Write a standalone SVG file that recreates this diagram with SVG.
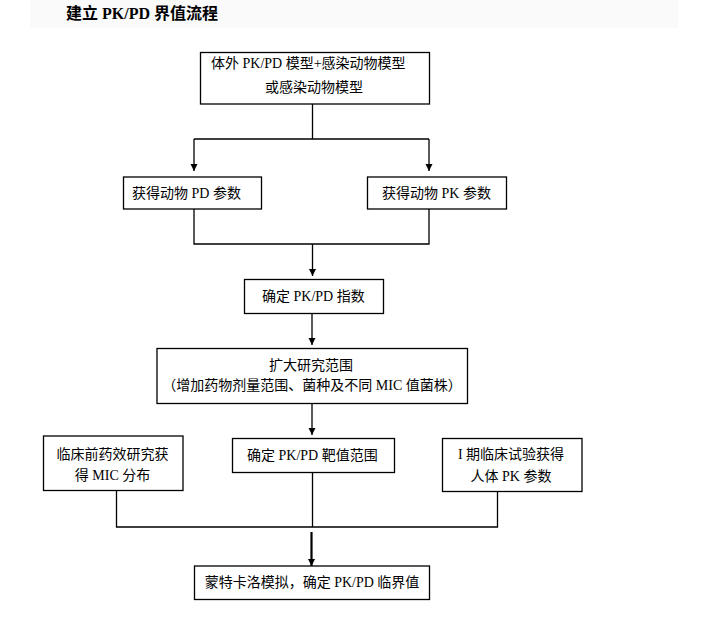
<svg xmlns="http://www.w3.org/2000/svg" width="724" height="626" viewBox="0 0 724 626">
<style>
.box{fill:#fff;stroke:#000;stroke-width:1.3}
.t{font-family:"Liberation Serif","Noto Sans CJK SC",serif;font-size:14px;fill:#000}
.m{text-anchor:middle}
.ln{fill:none;stroke:#000;stroke-width:1.3}
.title{font-family:"Liberation Serif","Noto Sans CJK SC",serif;font-size:16px;font-weight:bold;fill:#000}
</style>
<defs>
<marker id="arr" markerUnits="userSpaceOnUse" markerWidth="8" markerHeight="8" refX="4" refY="7" orient="auto-start-reverse" viewBox="0 0 8 8">
<path d="M0.5,0 L7.5,0 L4,7 z" fill="#000" transform="rotate(0)"/>
</marker>
<marker id="arrv" markerUnits="userSpaceOnUse" markerWidth="8" markerHeight="8" refX="4" refY="7" orient="0" viewBox="0 0 8 8">
<path d="M0.5,0 L7.5,0 L4,7 z" fill="#000"/>
</marker>
</defs>
<rect x="30" y="0" width="648" height="28" fill="#fafafa"/>
<text class="title" x="66" y="19">建立 PK/PD 界值流程</text>

<g id="connectors">
<path class="ln" d="M312.5,104 V139 M194,139 H429"/>
<path class="ln" d="M194,139 V171" marker-end="url(#arrv)"/>
<path class="ln" d="M429,139 V171" marker-end="url(#arrv)"/>
<path class="ln" d="M194,209 V244 H429 V209"/>
<path class="ln" d="M312.5,244 V276" marker-end="url(#arrv)"/>
<path class="ln" d="M312,313.5 V345" marker-end="url(#arrv)"/>
<path class="ln" d="M312,403.5 V435" marker-end="url(#arrv)"/>
<path class="ln" d="M116.5,491 V527 H497.5 V491"/>
<path class="ln" d="M312.5,472.5 V527"/>
<path class="ln" style="stroke-width:2.2" d="M311.5,532 V566" marker-end="url(#arrv)"/>
</g>

<g id="n1">
<rect class="box" x="200.5" y="52.5" width="229" height="51.5"/>
<text class="t" x="211" y="68">体外 PK/PD 模型+感染动物模型</text>
<text class="t m" x="314" y="92">或感染动物模型</text>
</g>
<g id="n2">
<rect class="box" x="123.5" y="177" width="138" height="32"/>
<text class="t" x="132" y="198">获得动物 PD 参数</text>
</g>
<g id="n3">
<rect class="box" x="367.5" y="177" width="139" height="32"/>
<text class="t" x="382" y="198">获得动物 PK 参数</text>
</g>
<g id="n4">
<rect class="box" x="244.5" y="279.5" width="139" height="34"/>
<text class="t" x="262" y="301">确定 PK/PD 指数</text>
</g>
<g id="n5">
<rect class="box" x="157" y="348.5" width="310.5" height="55"/>
<text class="t m" x="311" y="370">扩大研究范围</text>
<text class="t m" x="312" y="390">（增加药物剂量范围、菌种及不同 MIC 值菌株）</text>
</g>
<g id="n6">
<rect class="box" x="43.5" y="436" width="139.5" height="54.5"/>
<text class="t m" x="112.5" y="459">临床前药效研究获</text>
<text class="t m" x="112.5" y="480">得 MIC 分布</text>
</g>
<g id="n7">
<rect class="box" x="232.5" y="438.5" width="162" height="34"/>
<text class="t" x="247" y="460">确定 PK/PD 靶值范围</text>
</g>
<g id="n8">
<rect class="box" x="442.5" y="438.5" width="139.5" height="53"/>
<text class="t m" x="511" y="459">I 期临床试验获得</text>
<text class="t m" x="511" y="481">人体 PK 参数</text>
</g>
<g id="n9">
<rect class="box" x="194.5" y="566" width="235" height="33.5"/>
<text class="t m" x="312" y="587">蒙特卡洛模拟，确定 PK/PD 临界值</text>
</g>
</svg>
